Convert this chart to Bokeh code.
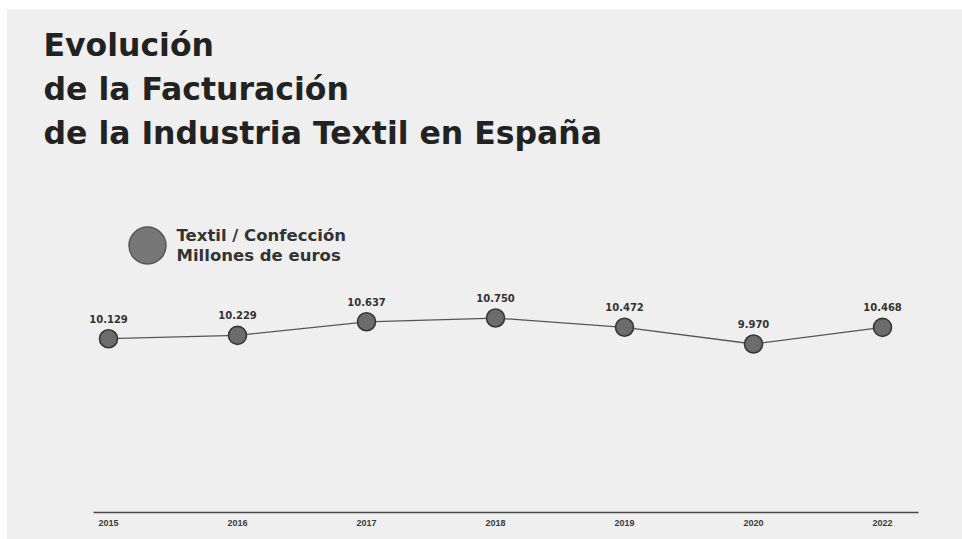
from bokeh.plotting import figure
from bokeh.models import ColumnDataSource, Range1d, Label, FixedTicker, Spacer
from bokeh.layouts import row, column
from bokeh.embed import file_html
from bokeh.resources import INLINE
from bokeh.core.properties import value

# ---- data ----
years = ["2015", "2016", "2017", "2018", "2019", "2020", "2022"]
facturacion = [10129, 10229, 10637, 10750, 10472, 9970, 10468]  # millones de euros

title_lines = ["Evolución", "de la Facturación", "de la Industria Textil en España"]
legend_lines = ["Textil / Confección", "Millones de euros"]

idx = list(range(len(years)))
labels = [f"{v:,}".replace(",", ".") for v in facturacion]
src = ColumnDataSource(dict(x=idx, y=facturacion, lab=labels))

BG = "#efefef"
W, H = 955, 530
FRAME_H = 503

p = figure(width=W, height=H, output_backend="svg", toolbar_location=None,
           x_range=Range1d(-0.783, 6.620), y_range=Range1d(4910, 20015),
           min_border_left=0, min_border_right=0, min_border_top=0,
           min_border_bottom=H - FRAME_H)
p.background_fill_color = None
p.border_fill_color = None
p.styles = {"background-color": BG}
p.outline_line_color = None
p.grid.visible = False
p.yaxis.visible = False

ax = p.xaxis[0]
ax.ticker = FixedTicker(ticks=idx)
ax.major_label_overrides = {i: y for i, y in zip(idx, years)}
ax.bounds = (-0.116, 6.279)
ax.axis_line_color = "#4a4a4a"
ax.axis_line_width = 1.6
ax.major_tick_line_color = None
ax.minor_tick_line_color = None
ax.major_tick_out = 0
ax.major_label_standoff = 7
ax.major_label_text_font = "Liberation Sans"
ax.major_label_text_font_style = "bold"
ax.major_label_text_font_size = "9px"
ax.major_label_text_color = "#3a3a3a"

# line + dots
p.line("x", "y", source=src, line_color="#555555", line_width=1.3)
p.scatter("x", "y", source=src, size=18, fill_color="#6c6c6c",
          line_color="#363636", line_width=1.6)
p.text("x", "y", text="lab", source=src, y_offset=-20,
       text_align="center", text_baseline="middle",
       text_font=value("DejaVu Sans"), text_font_style="bold",
       text_font_size="10px", text_color="#333333")

# legend key (pixel coordinate space)
p.extra_x_ranges["px"] = Range1d(0, W)
p.extra_y_ranges["px"] = Range1d(0, FRAME_H)
p.scatter(x=[140], y=[267], x_range_name="px", y_range_name="px", size=37,
          fill_color="#777777", line_color="#555555", line_width=1.5)

for i, t in enumerate(legend_lines):
    p.add_layout(Label(x=169, y=277 - 20 * i, x_units="screen", y_units="screen",
                       text=t, text_font="DejaVu Sans", text_font_style="bold",
                       text_font_size="16.5px", text_color="#333333",
                       text_baseline="alphabetic"))

for i, t in enumerate(title_lines):
    p.add_layout(Label(x=36, y=468 - 44 * i, x_units="screen", y_units="screen",
                       text=t, text_font="DejaVu Sans", text_font_style="bold",
                       text_font_size="31.5px", text_color="#222222",
                       text_baseline="alphabetic"))

layout = row(Spacer(width=7), column(Spacer(height=9), p))
open("out.html", "w").write(file_html(layout, INLINE))
